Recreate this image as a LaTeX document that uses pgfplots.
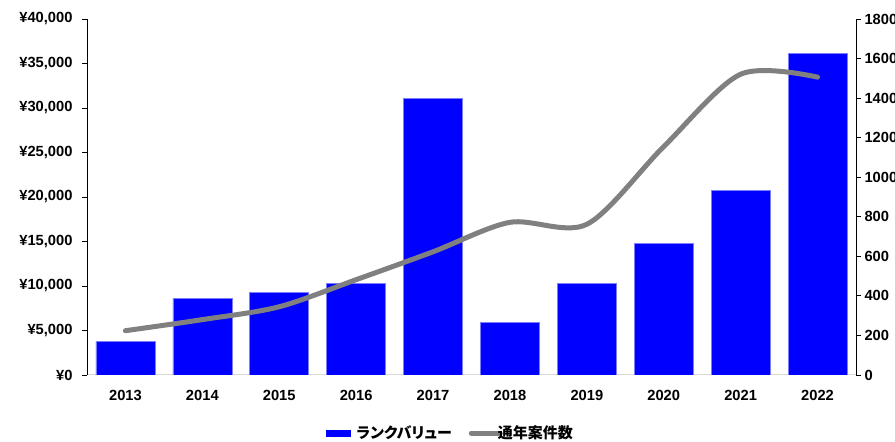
\documentclass[border=0pt]{standalone}
\usepackage{fontspec}
\setmainfont{Liberation Sans}
\newfontfamily\jp[RawFeature=+palt]{Noto Sans CJK JP}
\usepackage{pgfplots}
\pgfplotsset{compat=1.18}

\definecolor{barblue}{RGB}{0,0,255}
\definecolor{baredge}{RGB}{125,125,255}
\definecolor{linegray}{RGB}{128,128,128}
\definecolor{xaxisgray}{RGB}{217,217,217}
\newcommand{\ticklbl}{\fontsize{14.7}{16}\selectfont\bfseries}

\begin{document}
\begin{tikzpicture}
\fill[white] (0,0) rectangle (895pt,442pt);

% bars, left axis
\begin{axis}[
    at={(87pt,67pt)}, anchor=south west,
    scale only axis, width=769pt, height=356pt,
    xmin=-0.5, xmax=9.5, ymin=0, ymax=40000,
    ybar, bar width=59pt,
    axis x line*=bottom, axis y line*=left,
    axis line style={-},
    x axis line style={draw=xaxisgray, line width=1pt},
    y axis line style={draw=black, line width=0.8pt},
    xtick={0,1,2,3,4,5,6,7,8,9},
    xticklabels={2013,2014,2015,2016,2017,2018,2019,2020,2021,2022},
    xtick style={draw=none},
    ytick={0,5000,10000,15000,20000,25000,30000,35000,40000},
    yticklabels={{¥0},{¥5,000},{¥10,000},{¥15,000},{¥20,000},{¥25,000},{¥30,000},{¥35,000},{¥40,000}},
    tick align=outside, major tick length=5pt,
    ytick style={draw=black, line width=0.8pt},
    tick label style={font=\ticklbl},
    yticklabel style={xshift=-6pt},
    xticklabel style={yshift=-7pt},
    scaled y ticks=false,
]
\addplot[fill=barblue, draw=baredge, line width=0.6pt] coordinates {
  (0,3740) (1,8620) (2,9290) (3,10300) (4,31090)
  (5,5920) (6,10300) (7,14800) (8,20710) (9,36150)
};
\end{axis}

% line, right axis
\begin{axis}[
    at={(87pt,67pt)}, anchor=south west,
    scale only axis, width=769pt, height=356pt,
    xmin=-0.5, xmax=9.5, ymin=0, ymax=1800,
    axis x line=none, axis y line*=right,
    axis line style={-, draw=black, line width=0.8pt},
    ytick={0,200,400,600,800,1000,1200,1400,1600,1800},
    yticklabels={0,200,400,600,800,1000,1200,1400,1600,1800},
    tick align=outside, major tick length=5pt,
    ytick style={draw=black, line width=0.8pt},
    tick label style={font=\ticklbl},
    legend columns=2,
    legend style={
        at={(0.4727,-0.163)}, anchor=center,
        draw=none, fill=none,
        font=\jp\fontsize{15}{17}\selectfont\bfseries,
        /tikz/every even column/.append style={column sep=15pt},
    },
]
\addlegendimage{legend image code/.code={%
    \fill[barblue] (0pt,-2.8pt) rectangle (24pt,2.8pt);
    \path (28pt,0pt);}}
\addlegendentry{ランクバリュー}
\addplot[smooth, color=linegray, line width=5pt, line cap=round,
    legend image code/.code={%
    \draw[linegray, line width=5pt] (0pt,0pt) -- (22pt,0pt);
    \draw[overlay, linegray, line width=5pt] (21pt,0pt) -- (29pt,0pt);}] coordinates {
  (0,224) (1,280) (2,345) (3,482) (4,623)
  (5,772) (6,762) (7,1155) (8,1521) (9,1506)
};
\addlegendentry{通年案件数}
\end{axis}

\pgfresetboundingbox
\path (0,0) rectangle (895pt,442pt);
\end{tikzpicture}
\end{document}
